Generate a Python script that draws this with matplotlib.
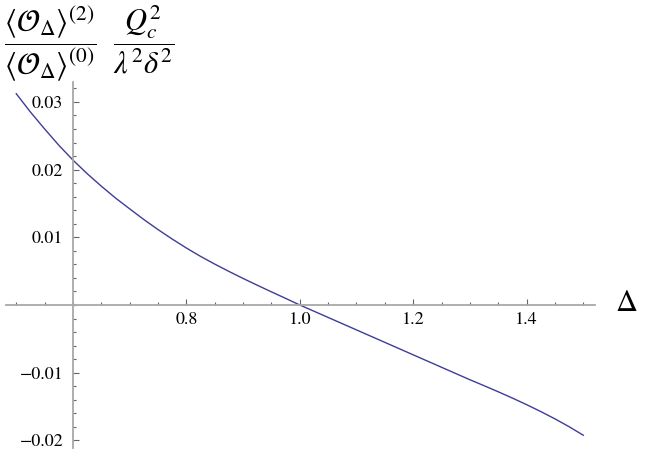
import numpy as np
import matplotlib.pyplot as plt
from matplotlib.ticker import FixedLocator

plt.rcParams['mathtext.fontset'] = 'stix'
plt.rcParams['font.family'] = ['STIXGeneral', 'DejaVu Serif']

# curve
delta = [0.500, 0.525, 0.550, 0.575, 0.600, 0.625, 0.650, 0.675, 0.700, 0.725,
         0.750, 0.775, 0.800, 0.825, 0.850, 0.875, 0.900, 0.925, 0.950, 0.975,
         1.000, 1.025, 1.050, 1.075, 1.100, 1.125, 1.150, 1.175, 1.200, 1.225,
         1.250, 1.275, 1.300, 1.325, 1.350, 1.375, 1.400, 1.425, 1.450, 1.475,
         1.500]
ratio = [0.0312, 0.0285, 0.0260, 0.0236, 0.0214, 0.0194, 0.01755, 0.0158, 0.0142, 0.01262,
         0.01114, 0.00974, 0.00842, 0.00718, 0.00604, 0.00496, 0.00392, 0.00292, 0.00194, 0.00098,
         0.0000, -0.00092, -0.00184, -0.00276, -0.00368, -0.0046, -0.00552, -0.00644, -0.00736, -0.00828,
         -0.0092, -0.01012, -0.01104, -0.01192, -0.01282, -0.01375, -0.01472, -0.01574, -0.01682, -0.01798,
         -0.01924]

xticks = [0.8, 1.0, 1.2, 1.4]
xticklabels = ['0.8', '1.0', '1.2', '1.4']
yticks = [-0.02, -0.01, 0.01, 0.02, 0.03]
yticklabels = ['\u22120.02', '\u22120.01', '0.01', '0.02', '0.03']


def make_plot():
    fig = plt.figure(figsize=(6.54, 4.54), dpi=100)
    ax = fig.add_axes([0, 0, 1, 1])
    ax.set_facecolor('none')

    ax.plot(delta, ratio, color='#3d3d99', linewidth=1.0)

    ax.set_xlim(0.4713, 1.6247)
    ax.set_ylim(-0.02201, 0.04505)

    # Mathematica-like axes crossing at (0.6, 0)
    for side in ('top', 'right'):
        ax.spines[side].set_visible(False)
    ax.spines['bottom'].set_position(('data', 0))
    ax.spines['left'].set_position(('data', 0.6))
    ax.spines['bottom'].set_bounds(0.481, 1.52)
    ax.spines['left'].set_bounds(-0.0211, 0.0329)
    for side in ('bottom', 'left'):
        ax.spines[side].set_color('#a8a8a8')
        ax.spines[side].set_linewidth(1.3)

    ax.xaxis.set_major_locator(FixedLocator(xticks))
    ax.set_xticklabels(xticklabels)
    ax.xaxis.set_minor_locator(FixedLocator(np.round(np.arange(0.5, 1.501, 0.05), 3)))
    ax.yaxis.set_major_locator(FixedLocator(yticks))
    ax.set_yticklabels(yticklabels)
    ax.yaxis.set_minor_locator(FixedLocator(np.round(np.arange(-0.02, 0.0321, 0.002), 4)))

    ax.tick_params(which='both', direction='in', color='#666666', width=0.8,
                   labelsize=13)
    ax.tick_params(which='major', length=4.5)
    ax.tick_params(which='minor', length=2.5)
    ax.tick_params(axis='x', which='major', pad=5)
    ax.tick_params(axis='y', which='major', pad=7)

    ax.text(0.9575, 0.33, r'$\Delta$', transform=ax.transAxes, fontsize=22,
            ha='center', va='center')
    ax.text(0.006, 0.992,
            r'$\dfrac{\langle\mathcal{O}_{\Delta}\rangle^{(2)}}{\langle\mathcal{O}_{\Delta}\rangle^{(0)}}\ \ \dfrac{Q_c^2}{\lambda^2\delta^2}$',
            transform=ax.transAxes, fontsize=22, ha='left', va='top')

    fig.savefig('out.png', dpi=100)


if __name__ == "__main__":
    make_plot()
